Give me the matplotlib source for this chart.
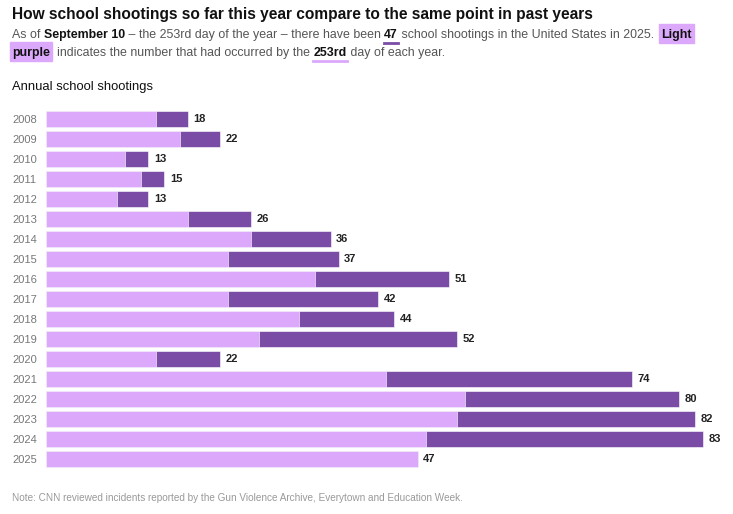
import matplotlib.pyplot as plt
import numpy as np

years = [2008, 2009, 2010, 2011, 2012, 2013, 2014, 2015, 2016, 2017,
         2018, 2019, 2020, 2021, 2022, 2023, 2024, 2025]
# total shootings for the whole year
totals = [18, 22, 13, 15, 13, 26, 36, 37, 51, 42, 44, 52, 22, 74, 80, 82, 83, 47]
# shootings by day 253 of each year
by_day253 = [14, 17, 10, 12, 9, 18, 26, 23, 34, 23, 32, 27, 14, 43, 53, 52, 48, 47]

LIGHT = '#dba8fb'
DARK = '#7b4ca6'
W, H = 733, 514

plt.rcParams['font.family'] = ['Liberation Sans', 'DejaVu Sans']

fig = plt.figure(figsize=(W / 100, H / 100), dpi=100)
renderer = fig.canvas.get_renderer()


def px(x, y):
    # pixel coords from top-left -> figure fraction
    return x / W, 1 - y / H


def rich_line(runs, x, y, size):
    # runs: list of (text, weight, color, deco)
    for text, weight, color, deco in runs:
        fx, fy = px(x, y)
        t = fig.text(fx, fy, text, fontsize=size, fontweight=weight, color=color,
                     va='baseline', ha='left')
        w = t.get_window_extent(renderer).width
        if deco == 'hl':
            fig.patches.append(plt.Rectangle(px(x - 2, y + 5), (w + 4) / W, 19 / H,
                                             transform=fig.transFigure, color=LIGHT,
                                             zorder=-1))
        elif deco in ('ul_dark', 'ul_light'):
            c = DARK if deco == 'ul_dark' else LIGHT
            fig.lines.append(plt.Line2D([x / W, (x + w) / W], [1 - (y + 5) / H] * 2,
                                        transform=fig.transFigure, color=c, lw=2))
        x += w


fig.text(*px(12, 19), 'How school shootings so far this year compare to the same point in past years',
         fontsize=11.2, fontweight='bold', color='#111111', va='baseline')

grey = '#555555'
blk = '#111111'
sub = 8.9
rich_line([('As of ', 'normal', grey, None),
           ('September 10', 'bold', blk, None),
           (' – the 253rd day of the year – there have been ', 'normal', grey, None),
           ('47', 'bold', blk, 'ul_dark'),
           (' school shootings in the United States in 2025.  ', 'normal', grey, None),
           ('Light', 'bold', blk, 'hl')], 12, 38, sub)
rich_line([('purple', 'bold', blk, 'hl'),
           ('  indicates the number that had occurred by the ', 'normal', grey, None),
           ('253rd', 'bold', blk, 'ul_light'),
           (' day of each year.', 'normal', grey, None)], 12, 56, sub)

fig.text(*px(12, 90), 'Annual school shootings', fontsize=9.4, color=blk, va='baseline')

# bars
left, top, bottom = 45.5, 109, 469
axw = 680
ax = fig.add_axes([left / W, 1 - bottom / H, axw / W, (bottom - top) / H])
pos = np.arange(len(years))
ax.barh(pos, totals, height=0.8, color=DARK, edgecolor='white', linewidth=0.4)
ax.barh(pos, by_day253, height=0.8, color=LIGHT, edgecolor='white', linewidth=0.4)
for p, t in zip(pos, totals):
    ax.text(t + 0.7, p, str(t), va='center', ha='left', fontsize=8,
            color='#222222', fontweight='bold')
ax.set_xlim(0, axw / 7.92)
ax.set_ylim(len(years) - 0.5, -0.5)
ax.set_yticks(pos, [str(y) for y in years])
ax.tick_params(axis='y', length=0, pad=(left - 12) * 0.72, labelsize=8, labelcolor='#777777')
for lab in ax.get_yticklabels():
    lab.set_ha('left')
ax.set_xticks([])
for s in ax.spines.values():
    s.set_visible(False)

fig.text(*px(12, 501), 'Note: CNN reviewed incidents reported by the Gun Violence Archive, Everytown and Education Week.',
         fontsize=7.2, color='#999999', va='baseline')

fig.savefig('out.png', dpi=100)
